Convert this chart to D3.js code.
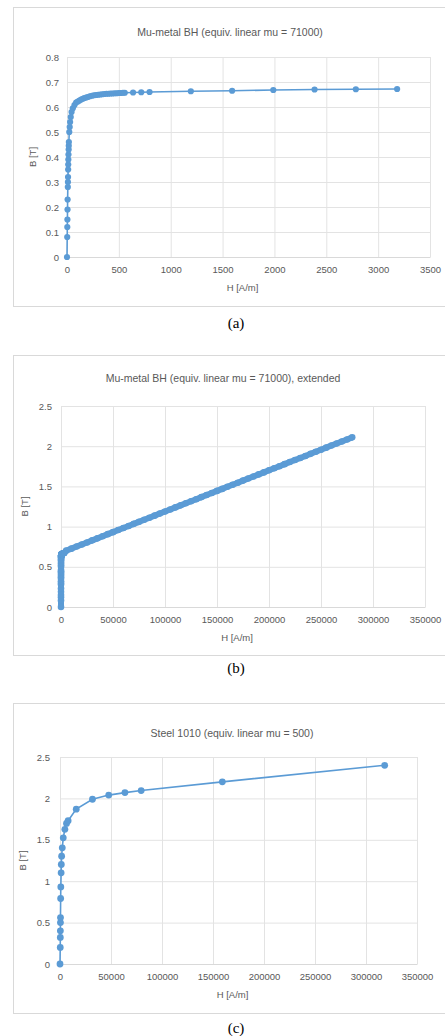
<!DOCTYPE html>
<html>
<head>
<meta charset="utf-8">
<script src="https://cdn.jsdelivr.net/npm/d3@7"></script>
<style>
    body { margin: 0; background: #fff; }
    svg { display: block; }
    .tick text { font-family: "Liberation Sans", Arial, sans-serif; fill: #595959; }
</style>
</head>
<body>
<div id="page"></div>
<script>
// Mu-metal BH curve (a)
const muH = [0, 2, 3, 4, 5, 6, 8, 9, 10, 11, 12, 13, 14, 16, 17, 18, 22, 26, 30, 36, 44, 56, 72, 88,
    104, 120, 136, 152, 168, 184, 200, 220, 240, 260, 280, 300, 320, 340, 360, 380, 400, 420, 440,
    460, 480, 500, 520, 540, 557, 637, 716, 796, 1194, 1592, 1989, 2387, 2785, 3183];
const muB = [0, 0.08, 0.12, 0.15, 0.19, 0.23, 0.28, 0.30, 0.32, 0.35, 0.37, 0.39, 0.41, 0.43, 0.445, 0.46,
    0.50, 0.52, 0.54, 0.56, 0.58, 0.595, 0.608, 0.618, 0.622, 0.626, 0.630, 0.633, 0.636, 0.638, 0.640,
    0.643, 0.645, 0.647, 0.648, 0.649, 0.650, 0.651, 0.652, 0.653, 0.653, 0.654, 0.654, 0.655, 0.655,
    0.656, 0.656, 0.657, 0.657, 0.658, 0.659, 0.660, 0.663, 0.665, 0.668, 0.670, 0.671, 0.672];

// extension of the mu-metal curve (b)
const muExtH = [5000, 10000, 15000, 20000, 25000, 30000, 35000, 40000, 45000, 50000, 55000, 60000,
    65000, 70000, 75000, 80000, 85000, 90000, 95000, 100000, 105000, 110000, 115000, 120000, 125000,
    130000, 135000, 140000, 145000, 150000, 155000, 160000, 165000, 170000, 175000, 180000, 185000,
    190000, 195000, 200000, 205000, 210000, 215000, 220000, 225000, 230000, 235000, 240000, 245000,
    250000, 255000, 260000, 265000, 270000, 275000, 280000];
const muExtB = [0.701, 0.726, 0.752, 0.778, 0.803, 0.829, 0.854, 0.880, 0.906, 0.931, 0.957, 0.983,
    1.008, 1.034, 1.059, 1.085, 1.111, 1.136, 1.162, 1.188, 1.213, 1.239, 1.264, 1.290, 1.316,
    1.341, 1.367, 1.393, 1.418, 1.444, 1.469, 1.495, 1.521, 1.546, 1.572, 1.598, 1.623,
    1.649, 1.674, 1.700, 1.726, 1.751, 1.777, 1.803, 1.828, 1.854, 1.879, 1.905, 1.931,
    1.956, 1.982, 2.008, 2.033, 2.059, 2.084, 2.110];

// Steel 1010 (c)
const steelH = [0, 238.7, 318.3, 358.1, 437.7, 477.5, 636.6, 795.8, 1114.1, 1273.2, 1591.5, 2228.2,
    3183.1, 4774.6, 6366.2, 7957.7, 15915.5, 31831, 47746.5, 63662, 79577.5, 159155, 318310];
const steelB = [0, 0.2003, 0.3204, 0.40045, 0.50055, 0.5606, 0.7908, 0.931, 1.1014, 1.2016, 1.302, 1.4028,
    1.524, 1.626, 1.698, 1.73, 1.87, 1.99, 2.04, 2.07, 2.095, 2.2, 2.4];

const aTitle = "Mu-metal BH (equiv. linear mu = 71000)";
const bTitle = "Mu-metal BH (equiv. linear mu = 71000), extended";
const cTitle = "Steel 1010 (equiv. linear mu = 500)";
const aXTicks = [0, 500, 1000, 1500, 2000, 2500, 3000, 3500];
const aYTicks = [0, 0.1, 0.2, 0.3, 0.4, 0.5, 0.6, 0.7, 0.8];
const bigXTicks = [0, 50000, 100000, 150000, 200000, 250000, 300000, 350000];
const bigYTicks = [0, 0.5, 1, 1.5, 2, 2.5];
const captions = ["(a)", "(b)", "(c)"];

const svg = d3.select("#page").append("svg")
    .attr("width", 445)
    .attr("height", 1036);

function zip(hs, bs) {
    return hs.map((h, i) => ({h: h, b: bs[i]}));
}

function drawChart(opts) {
    let g = svg.append("g");

    // chart frame
    g.append("rect")
        .attr("x", 13.5).attr("y", opts.frame[0] + 0.5)
        .attr("width", 440).attr("height", opts.frame[1] - opts.frame[0])
        .attr("fill", "#fff")
        .attr("stroke", "#d9d9d9");

    let x = d3.scaleLinear().domain(opts.xDomain).range(opts.xRange);
    let y = d3.scaleLinear().domain(opts.yDomain).range(opts.yRange);

    // gridlines
    g.append("g")
        .attr("transform", `translate(0,${opts.yRange[0]})`)
        .call(d3.axisBottom(x).tickValues(opts.xTicks).tickSize(-(opts.yRange[0] - opts.yRange[1])).tickFormat(""))
        .call(a => a.select(".domain").remove())
        .selectAll("line").attr("stroke", "#e3e3e3");

    g.append("g")
        .attr("transform", `translate(${opts.xRange[0]},0)`)
        .call(d3.axisLeft(y).tickValues(opts.yTicks).tickSize(-(opts.xRange[1] - opts.xRange[0])).tickFormat(""))
        .call(a => a.select(".domain").remove())
        .selectAll("line").attr("stroke", "#e3e3e3");

    // axis line and labels
    let xAxis = g.append("g")
        .attr("transform", `translate(0,${opts.yRange[0]})`)
        .call(d3.axisBottom(x).tickValues(opts.xTicks).tickSize(0).tickPadding(9).tickFormat(d => String(d)));
    xAxis.select(".domain").attr("stroke", "#d9d9d9");
    xAxis.selectAll("text").attr("font-size", 9.5);

    let yAxis = g.append("g")
        .attr("transform", `translate(${opts.xRange[0]},0)`)
        .call(d3.axisLeft(y).tickValues(opts.yTicks).tickSize(0).tickPadding(opts.yPad).tickFormat(d => String(d)));
    yAxis.select(".domain").remove();
    yAxis.selectAll("text").attr("font-size", 9.5);

    // titles
    g.append("text")
        .attr("x", opts.titleX).attr("y", opts.titleY)
        .attr("text-anchor", "middle")
        .attr("font-family", "Liberation Sans, Arial, sans-serif")
        .attr("font-size", 10.5)
        .attr("fill", "#595959")
        .text(opts.title);

    g.append("text")
        .attr("x", (opts.xRange[0] + opts.xRange[1]) / 2 - 6).attr("y", opts.yRange[0] + 34)
        .attr("text-anchor", "middle")
        .attr("font-family", "Liberation Sans, Arial, sans-serif")
        .attr("font-size", 9.5)
        .attr("fill", "#595959")
        .text("H [A/m]");

    g.append("text")
        .attr("transform", `translate(${opts.yTitleX},${(opts.yRange[0] + opts.yRange[1]) / 2}) rotate(-90)`)
        .attr("text-anchor", "middle")
        .attr("font-family", "Liberation Sans, Arial, sans-serif")
        .attr("font-size", 9.5)
        .attr("fill", "#595959")
        .text("B [T]");

    // series
    let line = d3.line().x(d => x(d.h)).y(d => y(d.b));
    g.append("path")
        .datum(opts.data)
        .attr("d", line)
        .attr("fill", "none")
        .attr("stroke", "#5b9bd5")
        .attr("stroke-width", opts.lineWidth);

    g.append("g").selectAll("circle")
        .data(opts.data)
        .enter().append("circle")
        .attr("cx", d => x(d.h))
        .attr("cy", d => y(d.b))
        .attr("r", opts.r)
        .attr("fill", "#5b9bd5");

    // caption below the frame
    svg.append("text")
        .attr("x", 236).attr("y", opts.captionY)
        .attr("text-anchor", "middle")
        .attr("font-family", "Liberation Serif, Times New Roman, serif")
        .attr("font-size", 15)
        .attr("fill", "#000")
        .text(opts.caption);
}

drawChart({
    frame: [7, 306],
    xDomain: [0, 3500], xRange: [67, 430],
    yDomain: [0, 0.8], yRange: [257, 57],
    xTicks: aXTicks, yTicks: aYTicks, yPad: 8,
    title: aTitle, titleX: 230, titleY: 36,
    yTitleX: 36,
    data: zip(muH, muB), r: 3.1, lineWidth: 1.6,
    caption: captions[0], captionY: 328
});

// markers are so dense here that they merge into a thick band
drawChart({
    frame: [355, 655],
    xDomain: [0, 350000], xRange: [61, 425],
    yDomain: [0, 2.5], yRange: [607, 406],
    xTicks: bigXTicks, yTicks: bigYTicks, yPad: 9,
    title: bTitle, titleX: 223, titleY: 382,
    yTitleX: 28,
    data: zip(muH, muB).concat(zip(muExtH, muExtB)), r: 3.3, lineWidth: 6,
    caption: captions[1], captionY: 673
});

drawChart({
    frame: [703, 1013],
    xDomain: [0, 350000], xRange: [60, 417],
    yDomain: [0, 2.5], yRange: [964, 757],
    xTicks: bigXTicks, yTicks: bigYTicks, yPad: 10,
    title: cTitle, titleX: 232, titleY: 737,
    yTitleX: 26,
    data: zip(steelH, steelB), r: 3.4, lineWidth: 1.6,
    caption: captions[2], captionY: 1033
});
</script>
</body>
</html>
